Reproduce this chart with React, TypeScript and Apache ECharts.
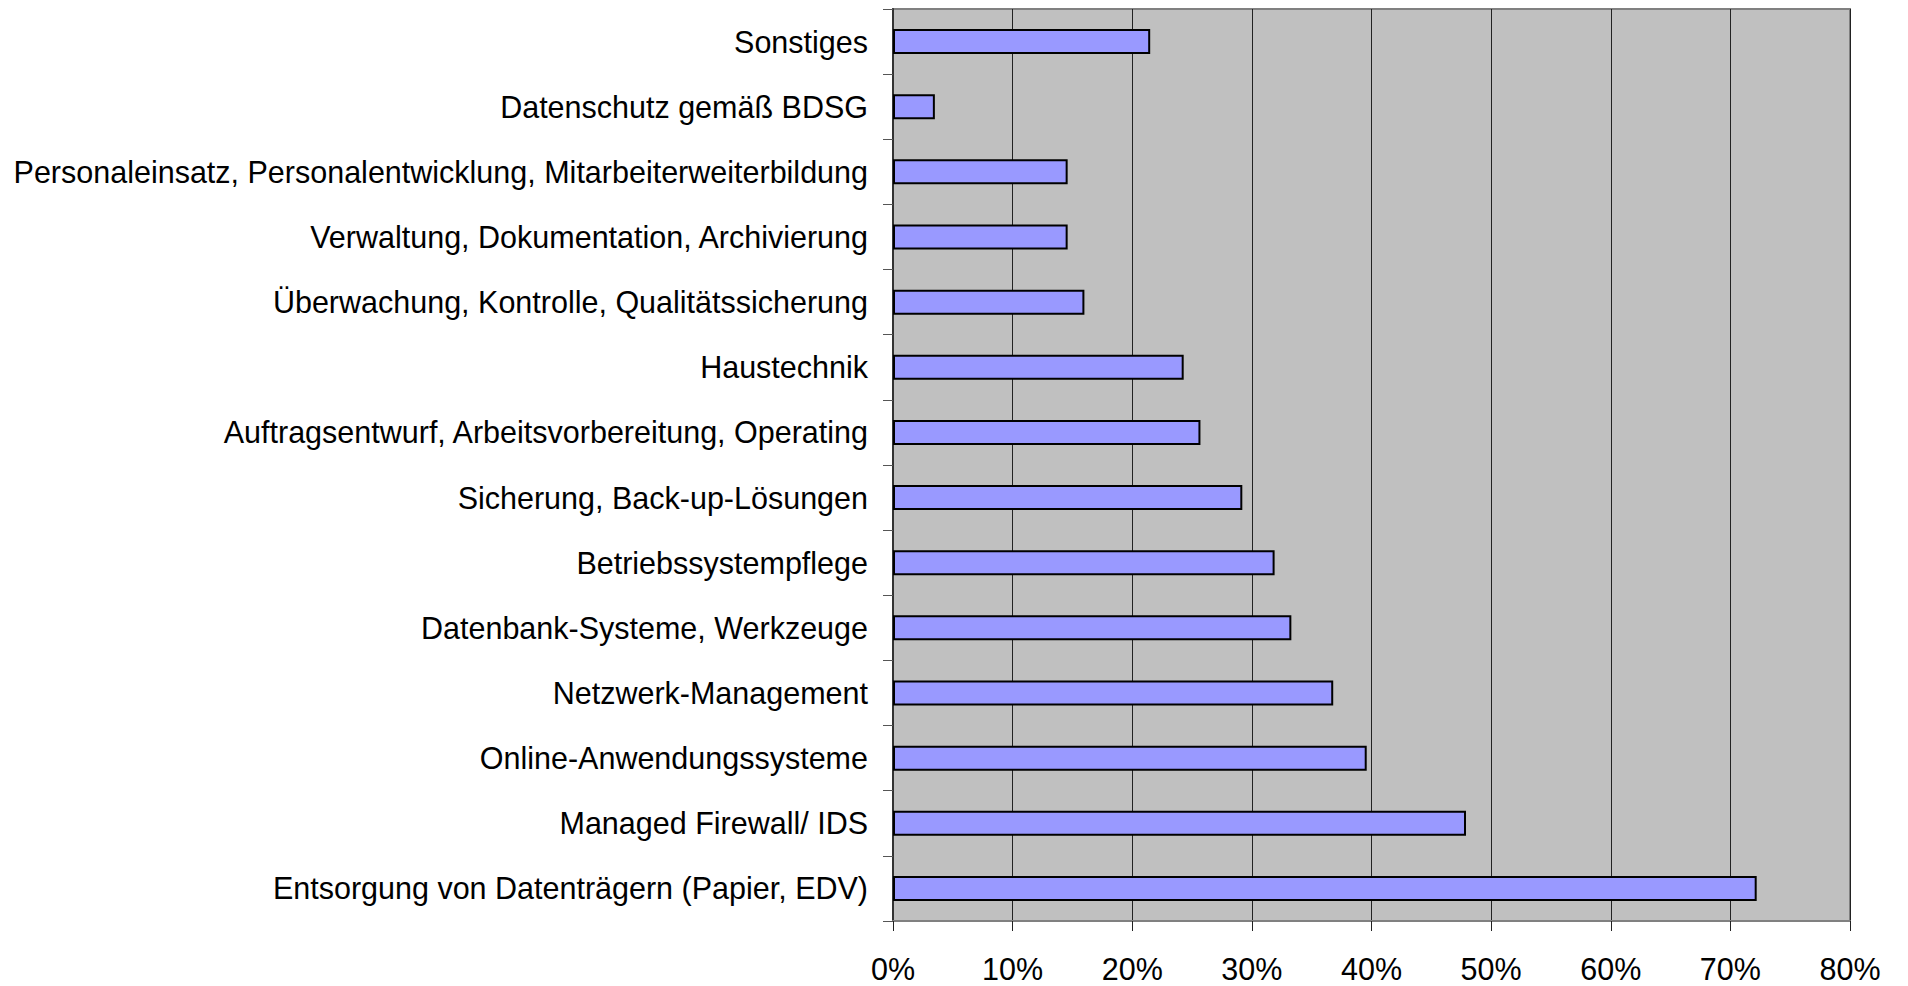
import React, { useEffect, useRef } from "react";
import * as echarts from "echarts";

const categories: string[] = [
  "Sonstiges",
  "Datenschutz gemäß BDSG",
  "Personaleinsatz, Personalentwicklung, Mitarbeiterweiterbildung",
  "Verwaltung, Dokumentation, Archivierung",
  "Überwachung, Kontrolle, Qualitätssicherung",
  "Haustechnik",
  "Auftragsentwurf, Arbeitsvorbereitung, Operating",
  "Sicherung, Back-up-Lösungen",
  "Betriebssystempflege",
  "Datenbank-Systeme, Werkzeuge",
  "Netzwerk-Management",
  "Online-Anwendungssysteme",
  "Managed Firewall/ IDS",
  "Entsorgung von Datenträgern (Papier, EDV)",
];

const values: number[] = [21.5, 3.5, 14.6, 14.6, 16.0, 24.3, 25.7, 29.2, 31.9, 33.3, 36.8, 39.6, 47.9, 72.2];

const xTicks = { min: 0, max: 80, interval: 10 };

export default function App() {
  const ref = useRef<HTMLDivElement>(null);
  useEffect(() => {
    if (!ref.current) return;
    const chart = echarts.init(ref.current, null, { renderer: "svg" });
    const font = "'Liberation Sans', Arial, sans-serif";
    chart.setOption({
      animation: false,
      backgroundColor: "#ffffff",
      grid: {
        left: 893,
        right: 58,
        top: 9,
        bottom: 65,
        show: true,
        backgroundColor: "#c0c0c0",
        borderColor: "#808080",
        borderWidth: 2,
        containLabel: false,
        outerBoundsMode: "none",
      },
      xAxis: {
        type: "value",
        min: xTicks.min,
        max: xTicks.max,
        interval: xTicks.interval,
        axisLine: { show: true, lineStyle: { color: "#808080", width: 2 } },
        axisTick: { show: true, length: 10, lineStyle: { color: "#222", width: 1 } },
        splitLine: { show: true, lineStyle: { color: "#222", width: 1 } },
        axisLabel: {
          formatter: "{value}%",
          color: "#000",
          fontFamily: font,
          fontSize: 30.5,
          margin: 32,
        },
      },
      yAxis: {
        type: "category",
        data: categories,
        inverse: true,
        axisLine: { show: true, lineStyle: { color: "#333", width: 2 } },
        axisTick: { show: true, length: 10, lineStyle: { color: "#555", width: 1 } },
        axisLabel: {
          color: "#000",
          fontFamily: font,
          fontSize: 30.5,
          margin: 25,
          padding: [0, 0, 9, 0],
        },
      },
      series: [
        {
          type: "bar",
          data: values,
          barWidth: 25,
          itemStyle: { color: "#9999ff", borderColor: "#000", borderWidth: 2 },
        },
      ],
    });
    return () => chart.dispose();
  }, []);
  return (
    <div
      ref={ref}
      style={{ position: "fixed", left: 0, top: 0, width: 1908, height: 986 }}
    />
  );
}
